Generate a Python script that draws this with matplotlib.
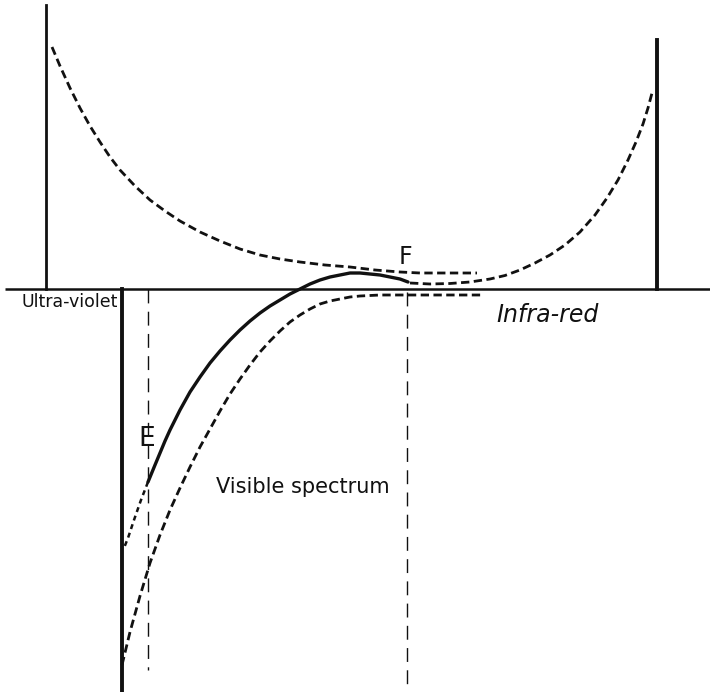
import matplotlib
matplotlib.use("Agg")
import matplotlib.pyplot as plt
from matplotlib import font_manager

# ---- data (pixel coordinates of the drawing) ----
top_left_x = [52, 60, 70, 80, 90, 100, 110, 120, 135, 150, 165, 180, 200, 220, 240, 260, 280, 300, 325, 350, 375, 400, 420, 440, 460, 477]
top_left_y = [47, 66, 88, 108, 126, 142, 157, 170, 186, 200, 211, 221, 232, 241, 249, 255, 259, 262, 265, 267, 270, 272, 273, 273, 273, 273]

right_u_x = [410, 430, 450, 470, 490, 505, 520, 535, 550, 565, 580, 595, 607, 618, 628, 636, 643, 648, 652]
right_u_y = [283, 284, 283.5, 282, 279, 275.5, 270, 263, 255, 245, 232, 215, 198, 180, 160, 142, 124, 108, 93]

solid_x = [148, 155, 160, 165, 170, 180, 190, 200, 210, 220, 230, 240, 250, 260, 270, 280, 290, 300, 310, 320, 330, 340, 350, 360, 370, 380, 390, 400, 408]
solid_y = [482, 465, 453, 441, 430, 410, 392, 377, 363, 351, 340, 330, 321, 313, 306, 300, 294, 289, 284, 280, 277, 275, 273, 273, 274, 275, 277, 279, 282]

below_e_x = [148, 141, 134, 128, 124]
below_e_y = [482, 500, 520, 538, 548]

lower_x = [122, 130, 140, 150, 160, 170, 180, 190, 200, 210, 220, 230, 240, 250, 260, 270, 280, 290, 300, 310, 320, 330, 340, 350, 360, 380, 400, 440, 483]
lower_y = [665, 632, 596, 563, 535, 510, 488, 467, 447, 429, 411, 394, 379, 365, 352, 341, 331, 322, 315, 309, 304, 301, 299, 297, 296, 295, 295, 295, 295]

axis_y = 289
axis_x = [5, 710]
uv_wall_x, uv_wall_y = 46, [5, 289]
ir_wall_x, ir_wall_y = 657, [40, 289]
lower_wall_x, lower_wall_y = 122, [289, 692]
guide_e_x, guide_e_y = 148, [289, 670]
guide_f_x, guide_f_y = 407, [292, 692]

labels = [("Ultra-violet", 70, 302), ("Infra-red", 548, 315), ("Visible spectrum", 303, 487), ("E", 147, 439), ("F", 405, 257)]

# ---- figure ----
fig = plt.figure(figsize=(7.10, 6.92), dpi=100)
ax = fig.add_axes([0, 0, 1, 1])
ax.set_xlim(0, 710)
ax.set_ylim(692, 0)
ax.axis("off")

k = "#111111"
ax.plot(axis_x, [axis_y, axis_y], color=k, lw=1.8, solid_capstyle="butt")
ax.plot([uv_wall_x, uv_wall_x], uv_wall_y, color=k, lw=2.0)
ax.plot([ir_wall_x, ir_wall_x], ir_wall_y, color=k, lw=2.8)
ax.plot([lower_wall_x, lower_wall_x], lower_wall_y, color=k, lw=2.8)
ax.plot([guide_e_x, guide_e_x], guide_e_y, color=k, lw=1.0, dashes=(10, 6))
ax.plot([guide_f_x, guide_f_x], guide_f_y, color=k, lw=1.0, dashes=(10, 6))

ax.plot(top_left_x, top_left_y, color=k, lw=2.0, dashes=(3.0, 1.6))
ax.plot(right_u_x, right_u_y, color=k, lw=2.0, dashes=(3.0, 1.6))
ax.plot(solid_x, solid_y, color=k, lw=2.4, solid_capstyle="round", solid_joinstyle="round")
ax.plot(below_e_x, below_e_y, color=k, lw=1.8, dashes=(2.0, 1.6))
ax.plot(lower_x, lower_y, color=k, lw=2.0, dashes=(3.0, 1.6))

names = {f.name for f in font_manager.fontManager.ttflist}
narrow = "Liberation Sans Narrow" if "Liberation Sans Narrow" in names else "DejaVu Sans"

ax.text(labels[0][1], labels[0][2], labels[0][0], fontsize=12.5, family=narrow, ha="center", va="center", color=k)
ax.text(labels[1][1], labels[1][2], labels[1][0], fontsize=17, family=narrow, style="italic", ha="center", va="center", color=k)
ax.text(labels[2][1], labels[2][2], labels[2][0], fontsize=15, family=narrow, ha="center", va="center", color=k)
ax.text(labels[3][1], labels[3][2], labels[3][0], fontsize=19, family="DejaVu Sans", ha="center", va="center", color=k)
ax.text(labels[4][1], labels[4][2], labels[4][0], fontsize=17, family="DejaVu Sans", ha="center", va="center", color=k)

fig.savefig("out.png", dpi=100, facecolor="white")
